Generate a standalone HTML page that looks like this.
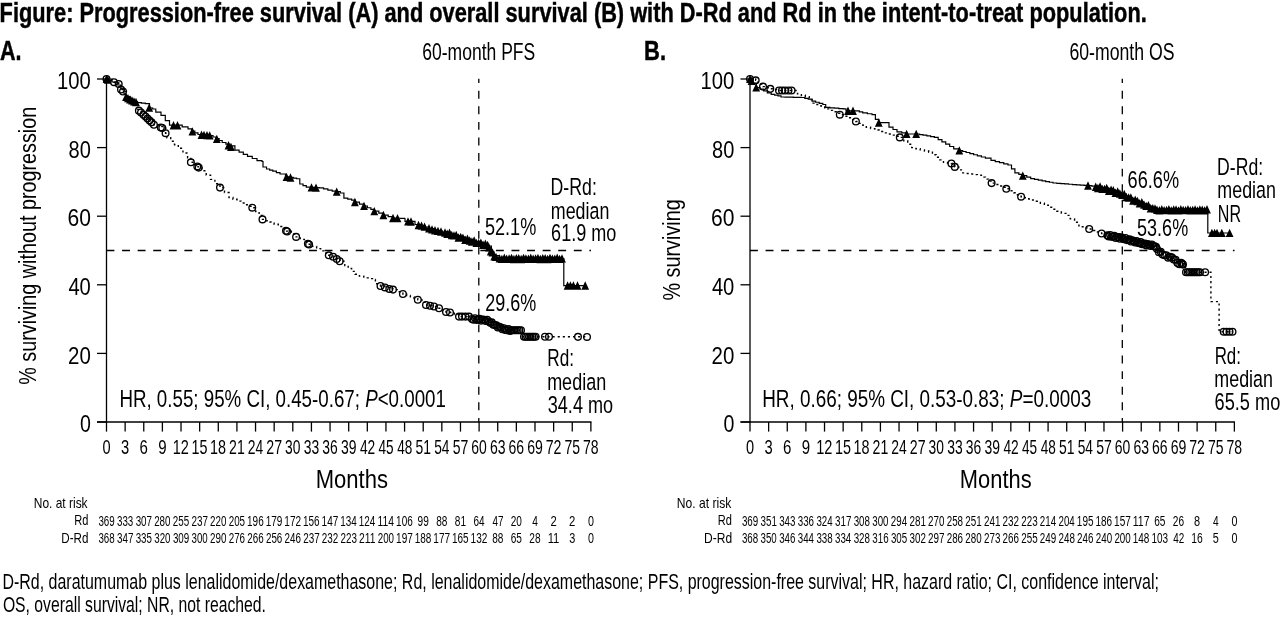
<!DOCTYPE html>
<html><head><meta charset="utf-8"><style>
html,body{margin:0;padding:0;background:#fff;}
svg{display:block;filter:grayscale(1);}
text{font-family:"Liberation Sans",sans-serif;fill:#000;}
</style></head><body>
<svg width="1280" height="617" viewBox="0 0 1280 617">
<rect width="1280" height="617" fill="#fff"/>
<text x="-0.42" y="21.60" font-size="27.2" font-weight="bold" textLength="1147.19" lengthAdjust="spacingAndGlyphs" stroke="#000" stroke-width="0.45">Figure: Progression-free survival (A) and overall survival (B) with D-Rd and Rd in the intent-to-treat population.</text>
<text x="-0.04" y="59.80" font-size="27.2" font-weight="bold" textLength="21.55" lengthAdjust="spacingAndGlyphs" stroke="#000" stroke-width="0.45">A.</text>
<text x="644.07" y="59.80" font-size="27.2" font-weight="bold" textLength="21.97" lengthAdjust="spacingAndGlyphs" stroke="#000" stroke-width="0.45">B.</text>
<text x="422.22" y="59.75" font-size="23" font-weight="normal" textLength="113.01" lengthAdjust="spacingAndGlyphs">60-month PFS</text>
<text x="1069.42" y="59.80" font-size="23" font-weight="normal" textLength="105.12" lengthAdjust="spacingAndGlyphs">60-month OS</text>
<line x1="106.50" y1="78.40" x2="106.50" y2="422.60" stroke="#000" stroke-width="1.3"/>
<line x1="97.00" y1="422.00" x2="106.50" y2="422.00" stroke="#000" stroke-width="1.3"/>
<line x1="97.00" y1="353.40" x2="106.50" y2="353.40" stroke="#000" stroke-width="1.3"/>
<line x1="97.00" y1="284.80" x2="106.50" y2="284.80" stroke="#000" stroke-width="1.3"/>
<line x1="97.00" y1="216.20" x2="106.50" y2="216.20" stroke="#000" stroke-width="1.3"/>
<line x1="97.00" y1="147.60" x2="106.50" y2="147.60" stroke="#000" stroke-width="1.3"/>
<line x1="97.00" y1="79.00" x2="106.50" y2="79.00" stroke="#000" stroke-width="1.3"/>
<line x1="97.00" y1="422.00" x2="591.48" y2="422.00" stroke="#000" stroke-width="1.3"/>
<line x1="106.50" y1="422.00" x2="106.50" y2="431.60" stroke="#000" stroke-width="1.3"/>
<line x1="125.13" y1="422.00" x2="125.13" y2="431.60" stroke="#000" stroke-width="1.3"/>
<line x1="143.76" y1="422.00" x2="143.76" y2="431.60" stroke="#000" stroke-width="1.3"/>
<line x1="162.39" y1="422.00" x2="162.39" y2="431.60" stroke="#000" stroke-width="1.3"/>
<line x1="181.02" y1="422.00" x2="181.02" y2="431.60" stroke="#000" stroke-width="1.3"/>
<line x1="199.65" y1="422.00" x2="199.65" y2="431.60" stroke="#000" stroke-width="1.3"/>
<line x1="218.28" y1="422.00" x2="218.28" y2="431.60" stroke="#000" stroke-width="1.3"/>
<line x1="236.91" y1="422.00" x2="236.91" y2="431.60" stroke="#000" stroke-width="1.3"/>
<line x1="255.54" y1="422.00" x2="255.54" y2="431.60" stroke="#000" stroke-width="1.3"/>
<line x1="274.17" y1="422.00" x2="274.17" y2="431.60" stroke="#000" stroke-width="1.3"/>
<line x1="292.80" y1="422.00" x2="292.80" y2="431.60" stroke="#000" stroke-width="1.3"/>
<line x1="311.43" y1="422.00" x2="311.43" y2="431.60" stroke="#000" stroke-width="1.3"/>
<line x1="330.06" y1="422.00" x2="330.06" y2="431.60" stroke="#000" stroke-width="1.3"/>
<line x1="348.69" y1="422.00" x2="348.69" y2="431.60" stroke="#000" stroke-width="1.3"/>
<line x1="367.32" y1="422.00" x2="367.32" y2="431.60" stroke="#000" stroke-width="1.3"/>
<line x1="385.95" y1="422.00" x2="385.95" y2="431.60" stroke="#000" stroke-width="1.3"/>
<line x1="404.58" y1="422.00" x2="404.58" y2="431.60" stroke="#000" stroke-width="1.3"/>
<line x1="423.21" y1="422.00" x2="423.21" y2="431.60" stroke="#000" stroke-width="1.3"/>
<line x1="441.84" y1="422.00" x2="441.84" y2="431.60" stroke="#000" stroke-width="1.3"/>
<line x1="460.47" y1="422.00" x2="460.47" y2="431.60" stroke="#000" stroke-width="1.3"/>
<line x1="479.10" y1="422.00" x2="479.10" y2="431.60" stroke="#000" stroke-width="1.3"/>
<line x1="497.73" y1="422.00" x2="497.73" y2="431.60" stroke="#000" stroke-width="1.3"/>
<line x1="516.36" y1="422.00" x2="516.36" y2="431.60" stroke="#000" stroke-width="1.3"/>
<line x1="534.99" y1="422.00" x2="534.99" y2="431.60" stroke="#000" stroke-width="1.3"/>
<line x1="553.62" y1="422.00" x2="553.62" y2="431.60" stroke="#000" stroke-width="1.3"/>
<line x1="572.25" y1="422.00" x2="572.25" y2="431.60" stroke="#000" stroke-width="1.3"/>
<line x1="590.88" y1="422.00" x2="590.88" y2="431.60" stroke="#000" stroke-width="1.3"/>
<line x1="106.50" y1="250.50" x2="591.00" y2="250.50" stroke="#000" stroke-width="1.3" stroke-dasharray="7.9 7.677"/>
<line x1="478.80" y1="78.80" x2="478.80" y2="422.00" stroke="#000" stroke-width="1.3" stroke-dasharray="7.9 7.677" stroke-dashoffset="3.6"/>
<line x1="750.00" y1="78.40" x2="750.00" y2="422.60" stroke="#000" stroke-width="1.3"/>
<line x1="740.50" y1="422.00" x2="750.00" y2="422.00" stroke="#000" stroke-width="1.3"/>
<line x1="740.50" y1="353.40" x2="750.00" y2="353.40" stroke="#000" stroke-width="1.3"/>
<line x1="740.50" y1="284.80" x2="750.00" y2="284.80" stroke="#000" stroke-width="1.3"/>
<line x1="740.50" y1="216.20" x2="750.00" y2="216.20" stroke="#000" stroke-width="1.3"/>
<line x1="740.50" y1="147.60" x2="750.00" y2="147.60" stroke="#000" stroke-width="1.3"/>
<line x1="740.50" y1="79.00" x2="750.00" y2="79.00" stroke="#000" stroke-width="1.3"/>
<line x1="740.50" y1="422.00" x2="1234.98" y2="422.00" stroke="#000" stroke-width="1.3"/>
<line x1="750.00" y1="422.00" x2="750.00" y2="431.60" stroke="#000" stroke-width="1.3"/>
<line x1="768.63" y1="422.00" x2="768.63" y2="431.60" stroke="#000" stroke-width="1.3"/>
<line x1="787.26" y1="422.00" x2="787.26" y2="431.60" stroke="#000" stroke-width="1.3"/>
<line x1="805.89" y1="422.00" x2="805.89" y2="431.60" stroke="#000" stroke-width="1.3"/>
<line x1="824.52" y1="422.00" x2="824.52" y2="431.60" stroke="#000" stroke-width="1.3"/>
<line x1="843.15" y1="422.00" x2="843.15" y2="431.60" stroke="#000" stroke-width="1.3"/>
<line x1="861.78" y1="422.00" x2="861.78" y2="431.60" stroke="#000" stroke-width="1.3"/>
<line x1="880.41" y1="422.00" x2="880.41" y2="431.60" stroke="#000" stroke-width="1.3"/>
<line x1="899.04" y1="422.00" x2="899.04" y2="431.60" stroke="#000" stroke-width="1.3"/>
<line x1="917.67" y1="422.00" x2="917.67" y2="431.60" stroke="#000" stroke-width="1.3"/>
<line x1="936.30" y1="422.00" x2="936.30" y2="431.60" stroke="#000" stroke-width="1.3"/>
<line x1="954.93" y1="422.00" x2="954.93" y2="431.60" stroke="#000" stroke-width="1.3"/>
<line x1="973.56" y1="422.00" x2="973.56" y2="431.60" stroke="#000" stroke-width="1.3"/>
<line x1="992.19" y1="422.00" x2="992.19" y2="431.60" stroke="#000" stroke-width="1.3"/>
<line x1="1010.82" y1="422.00" x2="1010.82" y2="431.60" stroke="#000" stroke-width="1.3"/>
<line x1="1029.45" y1="422.00" x2="1029.45" y2="431.60" stroke="#000" stroke-width="1.3"/>
<line x1="1048.08" y1="422.00" x2="1048.08" y2="431.60" stroke="#000" stroke-width="1.3"/>
<line x1="1066.71" y1="422.00" x2="1066.71" y2="431.60" stroke="#000" stroke-width="1.3"/>
<line x1="1085.34" y1="422.00" x2="1085.34" y2="431.60" stroke="#000" stroke-width="1.3"/>
<line x1="1103.97" y1="422.00" x2="1103.97" y2="431.60" stroke="#000" stroke-width="1.3"/>
<line x1="1122.60" y1="422.00" x2="1122.60" y2="431.60" stroke="#000" stroke-width="1.3"/>
<line x1="1141.23" y1="422.00" x2="1141.23" y2="431.60" stroke="#000" stroke-width="1.3"/>
<line x1="1159.86" y1="422.00" x2="1159.86" y2="431.60" stroke="#000" stroke-width="1.3"/>
<line x1="1178.49" y1="422.00" x2="1178.49" y2="431.60" stroke="#000" stroke-width="1.3"/>
<line x1="1197.12" y1="422.00" x2="1197.12" y2="431.60" stroke="#000" stroke-width="1.3"/>
<line x1="1215.75" y1="422.00" x2="1215.75" y2="431.60" stroke="#000" stroke-width="1.3"/>
<line x1="1234.38" y1="422.00" x2="1234.38" y2="431.60" stroke="#000" stroke-width="1.3"/>
<line x1="750.00" y1="250.50" x2="1234.50" y2="250.50" stroke="#000" stroke-width="1.3" stroke-dasharray="7.9 7.677"/>
<line x1="1122.30" y1="78.80" x2="1122.30" y2="422.00" stroke="#000" stroke-width="1.3" stroke-dasharray="7.9 7.677" stroke-dashoffset="3.6"/>
<text x="79.92" y="432.10" font-size="24.5" font-weight="normal" textLength="10.89" lengthAdjust="spacingAndGlyphs">0</text>
<text x="68.08" y="363.50" font-size="24.5" font-weight="normal" textLength="22.79" lengthAdjust="spacingAndGlyphs">20</text>
<text x="68.40" y="294.90" font-size="24.5" font-weight="normal" textLength="22.46" lengthAdjust="spacingAndGlyphs">40</text>
<text x="67.45" y="226.30" font-size="24.5" font-weight="normal" textLength="23.44" lengthAdjust="spacingAndGlyphs">60</text>
<text x="68.60" y="157.70" font-size="24.5" font-weight="normal" textLength="22.25" lengthAdjust="spacingAndGlyphs">80</text>
<text x="57.08" y="89.10" font-size="24.5" font-weight="normal" textLength="33.80" lengthAdjust="spacingAndGlyphs">100</text>
<text x="723.42" y="432.10" font-size="24.5" font-weight="normal" textLength="10.89" lengthAdjust="spacingAndGlyphs">0</text>
<text x="711.58" y="363.50" font-size="24.5" font-weight="normal" textLength="22.79" lengthAdjust="spacingAndGlyphs">20</text>
<text x="711.90" y="294.90" font-size="24.5" font-weight="normal" textLength="22.46" lengthAdjust="spacingAndGlyphs">40</text>
<text x="710.95" y="226.30" font-size="24.5" font-weight="normal" textLength="23.44" lengthAdjust="spacingAndGlyphs">60</text>
<text x="712.10" y="157.70" font-size="24.5" font-weight="normal" textLength="22.25" lengthAdjust="spacingAndGlyphs">80</text>
<text x="700.58" y="89.10" font-size="24.5" font-weight="normal" textLength="33.80" lengthAdjust="spacingAndGlyphs">100</text>
<text x="102.42" y="453.50" font-size="20.2" font-weight="normal" textLength="8.11" lengthAdjust="spacingAndGlyphs">0</text>
<text x="121.04" y="453.50" font-size="20.2" font-weight="normal" textLength="8.20" lengthAdjust="spacingAndGlyphs">3</text>
<text x="139.51" y="453.50" font-size="20.2" font-weight="normal" textLength="8.37" lengthAdjust="spacingAndGlyphs">6</text>
<text x="158.21" y="453.50" font-size="20.2" font-weight="normal" textLength="8.37" lengthAdjust="spacingAndGlyphs">9</text>
<text x="172.78" y="453.50" font-size="20.2" font-weight="normal" textLength="16.15" lengthAdjust="spacingAndGlyphs">12</text>
<text x="191.42" y="453.50" font-size="20.2" font-weight="normal" textLength="15.99" lengthAdjust="spacingAndGlyphs">15</text>
<text x="210.05" y="453.50" font-size="20.2" font-weight="normal" textLength="15.99" lengthAdjust="spacingAndGlyphs">18</text>
<text x="229.06" y="453.50" font-size="20.2" font-weight="normal" textLength="15.67" lengthAdjust="spacingAndGlyphs">21</text>
<text x="247.70" y="453.50" font-size="20.2" font-weight="normal" textLength="15.44" lengthAdjust="spacingAndGlyphs">24</text>
<text x="266.31" y="453.50" font-size="20.2" font-weight="normal" textLength="15.75" lengthAdjust="spacingAndGlyphs">27</text>
<text x="285.10" y="453.50" font-size="20.2" font-weight="normal" textLength="15.37" lengthAdjust="spacingAndGlyphs">30</text>
<text x="303.72" y="453.50" font-size="20.2" font-weight="normal" textLength="15.44" lengthAdjust="spacingAndGlyphs">33</text>
<text x="322.35" y="453.50" font-size="20.2" font-weight="normal" textLength="15.44" lengthAdjust="spacingAndGlyphs">36</text>
<text x="340.98" y="453.50" font-size="20.2" font-weight="normal" textLength="15.52" lengthAdjust="spacingAndGlyphs">39</text>
<text x="359.90" y="453.50" font-size="20.2" font-weight="normal" textLength="15.29" lengthAdjust="spacingAndGlyphs">42</text>
<text x="378.53" y="453.50" font-size="20.2" font-weight="normal" textLength="15.15" lengthAdjust="spacingAndGlyphs">45</text>
<text x="397.16" y="453.50" font-size="20.2" font-weight="normal" textLength="15.15" lengthAdjust="spacingAndGlyphs">48</text>
<text x="415.50" y="453.50" font-size="20.2" font-weight="normal" textLength="15.52" lengthAdjust="spacingAndGlyphs">51</text>
<text x="434.14" y="453.50" font-size="20.2" font-weight="normal" textLength="15.29" lengthAdjust="spacingAndGlyphs">54</text>
<text x="452.76" y="453.50" font-size="20.2" font-weight="normal" textLength="15.59" lengthAdjust="spacingAndGlyphs">57</text>
<text x="471.25" y="453.50" font-size="20.2" font-weight="normal" textLength="15.52" lengthAdjust="spacingAndGlyphs">60</text>
<text x="489.88" y="453.50" font-size="20.2" font-weight="normal" textLength="15.59" lengthAdjust="spacingAndGlyphs">63</text>
<text x="508.51" y="453.50" font-size="20.2" font-weight="normal" textLength="15.59" lengthAdjust="spacingAndGlyphs">66</text>
<text x="527.14" y="453.50" font-size="20.2" font-weight="normal" textLength="15.67" lengthAdjust="spacingAndGlyphs">69</text>
<text x="545.76" y="453.50" font-size="20.2" font-weight="normal" textLength="15.75" lengthAdjust="spacingAndGlyphs">72</text>
<text x="564.40" y="453.50" font-size="20.2" font-weight="normal" textLength="15.59" lengthAdjust="spacingAndGlyphs">75</text>
<text x="583.03" y="453.50" font-size="20.2" font-weight="normal" textLength="15.59" lengthAdjust="spacingAndGlyphs">78</text>
<text x="745.92" y="453.50" font-size="20.2" font-weight="normal" textLength="8.11" lengthAdjust="spacingAndGlyphs">0</text>
<text x="764.54" y="453.50" font-size="20.2" font-weight="normal" textLength="8.20" lengthAdjust="spacingAndGlyphs">3</text>
<text x="783.01" y="453.50" font-size="20.2" font-weight="normal" textLength="8.37" lengthAdjust="spacingAndGlyphs">6</text>
<text x="801.71" y="453.50" font-size="20.2" font-weight="normal" textLength="8.37" lengthAdjust="spacingAndGlyphs">9</text>
<text x="816.28" y="453.50" font-size="20.2" font-weight="normal" textLength="16.15" lengthAdjust="spacingAndGlyphs">12</text>
<text x="834.92" y="453.50" font-size="20.2" font-weight="normal" textLength="15.99" lengthAdjust="spacingAndGlyphs">15</text>
<text x="853.55" y="453.50" font-size="20.2" font-weight="normal" textLength="15.99" lengthAdjust="spacingAndGlyphs">18</text>
<text x="872.56" y="453.50" font-size="20.2" font-weight="normal" textLength="15.67" lengthAdjust="spacingAndGlyphs">21</text>
<text x="891.20" y="453.50" font-size="20.2" font-weight="normal" textLength="15.44" lengthAdjust="spacingAndGlyphs">24</text>
<text x="909.81" y="453.50" font-size="20.2" font-weight="normal" textLength="15.75" lengthAdjust="spacingAndGlyphs">27</text>
<text x="928.60" y="453.50" font-size="20.2" font-weight="normal" textLength="15.37" lengthAdjust="spacingAndGlyphs">30</text>
<text x="947.22" y="453.50" font-size="20.2" font-weight="normal" textLength="15.44" lengthAdjust="spacingAndGlyphs">33</text>
<text x="965.85" y="453.50" font-size="20.2" font-weight="normal" textLength="15.44" lengthAdjust="spacingAndGlyphs">36</text>
<text x="984.48" y="453.50" font-size="20.2" font-weight="normal" textLength="15.52" lengthAdjust="spacingAndGlyphs">39</text>
<text x="1003.39" y="453.50" font-size="20.2" font-weight="normal" textLength="15.29" lengthAdjust="spacingAndGlyphs">42</text>
<text x="1022.03" y="453.50" font-size="20.2" font-weight="normal" textLength="15.15" lengthAdjust="spacingAndGlyphs">45</text>
<text x="1040.66" y="453.50" font-size="20.2" font-weight="normal" textLength="15.15" lengthAdjust="spacingAndGlyphs">48</text>
<text x="1059.00" y="453.50" font-size="20.2" font-weight="normal" textLength="15.52" lengthAdjust="spacingAndGlyphs">51</text>
<text x="1077.64" y="453.50" font-size="20.2" font-weight="normal" textLength="15.29" lengthAdjust="spacingAndGlyphs">54</text>
<text x="1096.26" y="453.50" font-size="20.2" font-weight="normal" textLength="15.59" lengthAdjust="spacingAndGlyphs">57</text>
<text x="1114.75" y="453.50" font-size="20.2" font-weight="normal" textLength="15.52" lengthAdjust="spacingAndGlyphs">60</text>
<text x="1133.38" y="453.50" font-size="20.2" font-weight="normal" textLength="15.59" lengthAdjust="spacingAndGlyphs">63</text>
<text x="1152.01" y="453.50" font-size="20.2" font-weight="normal" textLength="15.59" lengthAdjust="spacingAndGlyphs">66</text>
<text x="1170.64" y="453.50" font-size="20.2" font-weight="normal" textLength="15.67" lengthAdjust="spacingAndGlyphs">69</text>
<text x="1189.26" y="453.50" font-size="20.2" font-weight="normal" textLength="15.75" lengthAdjust="spacingAndGlyphs">72</text>
<text x="1207.90" y="453.50" font-size="20.2" font-weight="normal" textLength="15.59" lengthAdjust="spacingAndGlyphs">75</text>
<text x="1226.53" y="453.50" font-size="20.2" font-weight="normal" textLength="15.59" lengthAdjust="spacingAndGlyphs">78</text>
<text x="315.74" y="488.40" font-size="26.6" font-weight="normal" textLength="72.22" lengthAdjust="spacingAndGlyphs">Months</text>
<text x="959.85" y="488.40" font-size="26.6" font-weight="normal" textLength="71.80" lengthAdjust="spacingAndGlyphs">Months</text>
<text transform="translate(35.90,384.69) rotate(-90)" x="0" y="0" font-size="23.5" textLength="277.92" lengthAdjust="spacingAndGlyphs">% surviving without progression</text>
<text transform="translate(679.50,300.59) rotate(-90)" x="0" y="0" font-size="23.5" textLength="101.44" lengthAdjust="spacingAndGlyphs">% surviving</text>
<text x="119.40" y="407.40" font-size="24.8" font-weight="normal" textLength="326.50" lengthAdjust="spacingAndGlyphs">HR, 0.55; 95% CI, 0.45-0.67; <tspan font-style="italic">P</tspan>&lt;0.0001</text>
<text x="762.19" y="407.40" font-size="24.8" font-weight="normal" textLength="329.02" lengthAdjust="spacingAndGlyphs">HR, 0.66; 95% CI, 0.53-0.83; <tspan font-style="italic">P</tspan>=0.0003</text>
<text x="484.98" y="234.60" font-size="24.6" font-weight="normal" textLength="51.26" lengthAdjust="spacingAndGlyphs">52.1%</text>
<text x="485.20" y="310.50" font-size="24.6" font-weight="normal" textLength="51.04" lengthAdjust="spacingAndGlyphs">29.6%</text>
<text x="550.58" y="194.90" font-size="23.9" font-weight="normal" textLength="46.23" lengthAdjust="spacingAndGlyphs">D-Rd:</text>
<text x="550.84" y="218.70" font-size="23.9" font-weight="normal" textLength="58.52" lengthAdjust="spacingAndGlyphs">median</text>
<text x="551.10" y="241.40" font-size="23.9" font-weight="normal" textLength="65.29" lengthAdjust="spacingAndGlyphs">61.9 mo</text>
<text x="547.23" y="366.00" font-size="23.9" font-weight="normal" textLength="26.74" lengthAdjust="spacingAndGlyphs">Rd:</text>
<text x="547.13" y="389.80" font-size="23.9" font-weight="normal" textLength="59.04" lengthAdjust="spacingAndGlyphs">median</text>
<text x="547.78" y="413.00" font-size="23.9" font-weight="normal" textLength="65.31" lengthAdjust="spacingAndGlyphs">34.4 mo</text>
<text x="1127.59" y="187.60" font-size="24.6" font-weight="normal" textLength="51.45" lengthAdjust="spacingAndGlyphs">66.6%</text>
<text x="1137.08" y="236.40" font-size="24.6" font-weight="normal" textLength="51.06" lengthAdjust="spacingAndGlyphs">53.6%</text>
<text x="1217.09" y="174.60" font-size="23.9" font-weight="normal" textLength="46.02" lengthAdjust="spacingAndGlyphs">D-Rd:</text>
<text x="1217.34" y="198.00" font-size="23.9" font-weight="normal" textLength="58.62" lengthAdjust="spacingAndGlyphs">median</text>
<text x="1217.82" y="221.70" font-size="23.9" font-weight="normal" textLength="23.18" lengthAdjust="spacingAndGlyphs">NR</text>
<text x="1214.65" y="363.60" font-size="23.9" font-weight="normal" textLength="26.29" lengthAdjust="spacingAndGlyphs">Rd:</text>
<text x="1214.34" y="387.30" font-size="23.9" font-weight="normal" textLength="58.62" lengthAdjust="spacingAndGlyphs">median</text>
<text x="1214.59" y="410.30" font-size="23.9" font-weight="normal" textLength="65.70" lengthAdjust="spacingAndGlyphs">65.5 mo</text>
<text x="33.74" y="508.10" font-size="14.6" font-weight="normal" textLength="53.87" lengthAdjust="spacingAndGlyphs">No. at risk</text>
<text x="74.22" y="525.40" font-size="14.6" font-weight="normal" textLength="14.14" lengthAdjust="spacingAndGlyphs">Rd</text>
<text x="61.27" y="542.90" font-size="14.6" font-weight="normal" textLength="27.13" lengthAdjust="spacingAndGlyphs">D-Rd</text>
<text x="98.38" y="525.50" font-size="14.4" font-weight="normal" textLength="16.32" lengthAdjust="spacingAndGlyphs">369</text>
<text x="117.02" y="525.50" font-size="14.4" font-weight="normal" textLength="16.26" lengthAdjust="spacingAndGlyphs">333</text>
<text x="135.64" y="525.50" font-size="14.4" font-weight="normal" textLength="16.37" lengthAdjust="spacingAndGlyphs">307</text>
<text x="154.18" y="525.50" font-size="14.4" font-weight="normal" textLength="16.32" lengthAdjust="spacingAndGlyphs">280</text>
<text x="172.80" y="525.50" font-size="14.4" font-weight="normal" textLength="16.37" lengthAdjust="spacingAndGlyphs">255</text>
<text x="191.43" y="525.50" font-size="14.4" font-weight="normal" textLength="16.47" lengthAdjust="spacingAndGlyphs">237</text>
<text x="210.07" y="525.50" font-size="14.4" font-weight="normal" textLength="16.32" lengthAdjust="spacingAndGlyphs">220</text>
<text x="228.69" y="525.50" font-size="14.4" font-weight="normal" textLength="16.37" lengthAdjust="spacingAndGlyphs">205</text>
<text x="247.07" y="525.50" font-size="14.4" font-weight="normal" textLength="16.63" lengthAdjust="spacingAndGlyphs">196</text>
<text x="265.69" y="525.50" font-size="14.4" font-weight="normal" textLength="16.69" lengthAdjust="spacingAndGlyphs">179</text>
<text x="284.32" y="525.50" font-size="14.4" font-weight="normal" textLength="16.74" lengthAdjust="spacingAndGlyphs">172</text>
<text x="302.96" y="525.50" font-size="14.4" font-weight="normal" textLength="16.63" lengthAdjust="spacingAndGlyphs">156</text>
<text x="321.58" y="525.50" font-size="14.4" font-weight="normal" textLength="16.74" lengthAdjust="spacingAndGlyphs">147</text>
<text x="340.22" y="525.50" font-size="14.4" font-weight="normal" textLength="16.52" lengthAdjust="spacingAndGlyphs">134</text>
<text x="358.85" y="525.50" font-size="14.4" font-weight="normal" textLength="16.52" lengthAdjust="spacingAndGlyphs">124</text>
<text x="377.45" y="525.50" font-size="14.4" font-weight="normal" textLength="16.53" lengthAdjust="spacingAndGlyphs">114</text>
<text x="396.11" y="525.50" font-size="14.4" font-weight="normal" textLength="16.63" lengthAdjust="spacingAndGlyphs">106</text>
<text x="417.61" y="525.50" font-size="14.4" font-weight="normal" textLength="11.23" lengthAdjust="spacingAndGlyphs">99</text>
<text x="436.24" y="525.50" font-size="14.4" font-weight="normal" textLength="11.18" lengthAdjust="spacingAndGlyphs">88</text>
<text x="454.87" y="525.50" font-size="14.4" font-weight="normal" textLength="11.23" lengthAdjust="spacingAndGlyphs">81</text>
<text x="473.45" y="525.50" font-size="14.4" font-weight="normal" textLength="11.12" lengthAdjust="spacingAndGlyphs">64</text>
<text x="492.38" y="525.50" font-size="14.4" font-weight="normal" textLength="11.02" lengthAdjust="spacingAndGlyphs">47</text>
<text x="510.71" y="525.50" font-size="14.4" font-weight="normal" textLength="11.18" lengthAdjust="spacingAndGlyphs">20</text>
<text x="532.21" y="525.50" font-size="14.4" font-weight="normal" textLength="5.67" lengthAdjust="spacingAndGlyphs">4</text>
<text x="550.48" y="525.50" font-size="14.4" font-weight="normal" textLength="6.30" lengthAdjust="spacingAndGlyphs">2</text>
<text x="569.11" y="525.50" font-size="14.4" font-weight="normal" textLength="6.30" lengthAdjust="spacingAndGlyphs">2</text>
<text x="587.88" y="525.50" font-size="14.4" font-weight="normal" textLength="5.97" lengthAdjust="spacingAndGlyphs">0</text>
<text x="98.39" y="542.90" font-size="14.4" font-weight="normal" textLength="16.26" lengthAdjust="spacingAndGlyphs">368</text>
<text x="117.01" y="542.90" font-size="14.4" font-weight="normal" textLength="16.37" lengthAdjust="spacingAndGlyphs">347</text>
<text x="135.65" y="542.90" font-size="14.4" font-weight="normal" textLength="16.26" lengthAdjust="spacingAndGlyphs">335</text>
<text x="154.28" y="542.90" font-size="14.4" font-weight="normal" textLength="16.21" lengthAdjust="spacingAndGlyphs">320</text>
<text x="172.90" y="542.90" font-size="14.4" font-weight="normal" textLength="16.32" lengthAdjust="spacingAndGlyphs">309</text>
<text x="191.54" y="542.90" font-size="14.4" font-weight="normal" textLength="16.21" lengthAdjust="spacingAndGlyphs">300</text>
<text x="210.07" y="542.90" font-size="14.4" font-weight="normal" textLength="16.32" lengthAdjust="spacingAndGlyphs">290</text>
<text x="228.69" y="542.90" font-size="14.4" font-weight="normal" textLength="16.37" lengthAdjust="spacingAndGlyphs">276</text>
<text x="247.32" y="542.90" font-size="14.4" font-weight="normal" textLength="16.37" lengthAdjust="spacingAndGlyphs">266</text>
<text x="265.95" y="542.90" font-size="14.4" font-weight="normal" textLength="16.37" lengthAdjust="spacingAndGlyphs">256</text>
<text x="284.58" y="542.90" font-size="14.4" font-weight="normal" textLength="16.37" lengthAdjust="spacingAndGlyphs">246</text>
<text x="303.21" y="542.90" font-size="14.4" font-weight="normal" textLength="16.47" lengthAdjust="spacingAndGlyphs">237</text>
<text x="321.84" y="542.90" font-size="14.4" font-weight="normal" textLength="16.47" lengthAdjust="spacingAndGlyphs">232</text>
<text x="340.47" y="542.90" font-size="14.4" font-weight="normal" textLength="16.37" lengthAdjust="spacingAndGlyphs">223</text>
<text x="359.08" y="542.90" font-size="14.4" font-weight="normal" textLength="16.42" lengthAdjust="spacingAndGlyphs">211</text>
<text x="377.74" y="542.90" font-size="14.4" font-weight="normal" textLength="16.32" lengthAdjust="spacingAndGlyphs">200</text>
<text x="396.10" y="542.90" font-size="14.4" font-weight="normal" textLength="16.74" lengthAdjust="spacingAndGlyphs">197</text>
<text x="414.74" y="542.90" font-size="14.4" font-weight="normal" textLength="16.63" lengthAdjust="spacingAndGlyphs">188</text>
<text x="433.36" y="542.90" font-size="14.4" font-weight="normal" textLength="16.74" lengthAdjust="spacingAndGlyphs">177</text>
<text x="452.00" y="542.90" font-size="14.4" font-weight="normal" textLength="16.63" lengthAdjust="spacingAndGlyphs">165</text>
<text x="470.62" y="542.90" font-size="14.4" font-weight="normal" textLength="16.74" lengthAdjust="spacingAndGlyphs">132</text>
<text x="492.13" y="542.90" font-size="14.4" font-weight="normal" textLength="11.18" lengthAdjust="spacingAndGlyphs">88</text>
<text x="510.71" y="542.90" font-size="14.4" font-weight="normal" textLength="11.23" lengthAdjust="spacingAndGlyphs">65</text>
<text x="529.34" y="542.90" font-size="14.4" font-weight="normal" textLength="11.23" lengthAdjust="spacingAndGlyphs">28</text>
<text x="547.63" y="542.90" font-size="14.4" font-weight="normal" textLength="11.69" lengthAdjust="spacingAndGlyphs">11</text>
<text x="569.24" y="542.90" font-size="14.4" font-weight="normal" textLength="6.03" lengthAdjust="spacingAndGlyphs">3</text>
<text x="587.88" y="542.90" font-size="14.4" font-weight="normal" textLength="5.97" lengthAdjust="spacingAndGlyphs">0</text>
<text x="676.83" y="508.10" font-size="14.6" font-weight="normal" textLength="54.43" lengthAdjust="spacingAndGlyphs">No. at risk</text>
<text x="717.87" y="525.40" font-size="14.6" font-weight="normal" textLength="14.14" lengthAdjust="spacingAndGlyphs">Rd</text>
<text x="704.04" y="542.90" font-size="14.6" font-weight="normal" textLength="28.04" lengthAdjust="spacingAndGlyphs">D-Rd</text>
<text x="741.88" y="525.50" font-size="14.4" font-weight="normal" textLength="16.32" lengthAdjust="spacingAndGlyphs">369</text>
<text x="760.51" y="525.50" font-size="14.4" font-weight="normal" textLength="16.32" lengthAdjust="spacingAndGlyphs">351</text>
<text x="779.15" y="525.50" font-size="14.4" font-weight="normal" textLength="16.26" lengthAdjust="spacingAndGlyphs">343</text>
<text x="797.78" y="525.50" font-size="14.4" font-weight="normal" textLength="16.26" lengthAdjust="spacingAndGlyphs">336</text>
<text x="816.41" y="525.50" font-size="14.4" font-weight="normal" textLength="16.16" lengthAdjust="spacingAndGlyphs">324</text>
<text x="835.03" y="525.50" font-size="14.4" font-weight="normal" textLength="16.37" lengthAdjust="spacingAndGlyphs">317</text>
<text x="853.67" y="525.50" font-size="14.4" font-weight="normal" textLength="16.26" lengthAdjust="spacingAndGlyphs">308</text>
<text x="872.30" y="525.50" font-size="14.4" font-weight="normal" textLength="16.21" lengthAdjust="spacingAndGlyphs">300</text>
<text x="890.83" y="525.50" font-size="14.4" font-weight="normal" textLength="16.26" lengthAdjust="spacingAndGlyphs">294</text>
<text x="909.45" y="525.50" font-size="14.4" font-weight="normal" textLength="16.42" lengthAdjust="spacingAndGlyphs">281</text>
<text x="928.09" y="525.50" font-size="14.4" font-weight="normal" textLength="16.32" lengthAdjust="spacingAndGlyphs">270</text>
<text x="946.71" y="525.50" font-size="14.4" font-weight="normal" textLength="16.37" lengthAdjust="spacingAndGlyphs">258</text>
<text x="965.34" y="525.50" font-size="14.4" font-weight="normal" textLength="16.42" lengthAdjust="spacingAndGlyphs">251</text>
<text x="983.97" y="525.50" font-size="14.4" font-weight="normal" textLength="16.42" lengthAdjust="spacingAndGlyphs">241</text>
<text x="1002.60" y="525.50" font-size="14.4" font-weight="normal" textLength="16.47" lengthAdjust="spacingAndGlyphs">232</text>
<text x="1021.23" y="525.50" font-size="14.4" font-weight="normal" textLength="16.37" lengthAdjust="spacingAndGlyphs">223</text>
<text x="1039.87" y="525.50" font-size="14.4" font-weight="normal" textLength="16.26" lengthAdjust="spacingAndGlyphs">214</text>
<text x="1058.50" y="525.50" font-size="14.4" font-weight="normal" textLength="16.26" lengthAdjust="spacingAndGlyphs">204</text>
<text x="1076.87" y="525.50" font-size="14.4" font-weight="normal" textLength="16.63" lengthAdjust="spacingAndGlyphs">195</text>
<text x="1095.50" y="525.50" font-size="14.4" font-weight="normal" textLength="16.63" lengthAdjust="spacingAndGlyphs">186</text>
<text x="1114.12" y="525.50" font-size="14.4" font-weight="normal" textLength="16.74" lengthAdjust="spacingAndGlyphs">157</text>
<text x="1132.72" y="525.50" font-size="14.4" font-weight="normal" textLength="16.76" lengthAdjust="spacingAndGlyphs">117</text>
<text x="1154.21" y="525.50" font-size="14.4" font-weight="normal" textLength="11.23" lengthAdjust="spacingAndGlyphs">65</text>
<text x="1172.84" y="525.50" font-size="14.4" font-weight="normal" textLength="11.23" lengthAdjust="spacingAndGlyphs">26</text>
<text x="1194.05" y="525.50" font-size="14.4" font-weight="normal" textLength="6.09" lengthAdjust="spacingAndGlyphs">8</text>
<text x="1212.97" y="525.50" font-size="14.4" font-weight="normal" textLength="5.67" lengthAdjust="spacingAndGlyphs">4</text>
<text x="1231.38" y="525.50" font-size="14.4" font-weight="normal" textLength="5.97" lengthAdjust="spacingAndGlyphs">0</text>
<text x="741.89" y="542.90" font-size="14.4" font-weight="normal" textLength="16.26" lengthAdjust="spacingAndGlyphs">368</text>
<text x="760.52" y="542.90" font-size="14.4" font-weight="normal" textLength="16.21" lengthAdjust="spacingAndGlyphs">350</text>
<text x="779.15" y="542.90" font-size="14.4" font-weight="normal" textLength="16.26" lengthAdjust="spacingAndGlyphs">346</text>
<text x="797.78" y="542.90" font-size="14.4" font-weight="normal" textLength="16.16" lengthAdjust="spacingAndGlyphs">344</text>
<text x="816.41" y="542.90" font-size="14.4" font-weight="normal" textLength="16.26" lengthAdjust="spacingAndGlyphs">338</text>
<text x="835.04" y="542.90" font-size="14.4" font-weight="normal" textLength="16.16" lengthAdjust="spacingAndGlyphs">334</text>
<text x="853.67" y="542.90" font-size="14.4" font-weight="normal" textLength="16.26" lengthAdjust="spacingAndGlyphs">328</text>
<text x="872.30" y="542.90" font-size="14.4" font-weight="normal" textLength="16.26" lengthAdjust="spacingAndGlyphs">316</text>
<text x="890.93" y="542.90" font-size="14.4" font-weight="normal" textLength="16.26" lengthAdjust="spacingAndGlyphs">305</text>
<text x="909.55" y="542.90" font-size="14.4" font-weight="normal" textLength="16.37" lengthAdjust="spacingAndGlyphs">302</text>
<text x="928.08" y="542.90" font-size="14.4" font-weight="normal" textLength="16.47" lengthAdjust="spacingAndGlyphs">297</text>
<text x="946.71" y="542.90" font-size="14.4" font-weight="normal" textLength="16.37" lengthAdjust="spacingAndGlyphs">286</text>
<text x="965.35" y="542.90" font-size="14.4" font-weight="normal" textLength="16.32" lengthAdjust="spacingAndGlyphs">280</text>
<text x="983.97" y="542.90" font-size="14.4" font-weight="normal" textLength="16.37" lengthAdjust="spacingAndGlyphs">273</text>
<text x="1002.60" y="542.90" font-size="14.4" font-weight="normal" textLength="16.37" lengthAdjust="spacingAndGlyphs">266</text>
<text x="1021.23" y="542.90" font-size="14.4" font-weight="normal" textLength="16.37" lengthAdjust="spacingAndGlyphs">255</text>
<text x="1039.86" y="542.90" font-size="14.4" font-weight="normal" textLength="16.42" lengthAdjust="spacingAndGlyphs">249</text>
<text x="1058.49" y="542.90" font-size="14.4" font-weight="normal" textLength="16.37" lengthAdjust="spacingAndGlyphs">248</text>
<text x="1077.12" y="542.90" font-size="14.4" font-weight="normal" textLength="16.37" lengthAdjust="spacingAndGlyphs">246</text>
<text x="1095.76" y="542.90" font-size="14.4" font-weight="normal" textLength="16.32" lengthAdjust="spacingAndGlyphs">240</text>
<text x="1114.39" y="542.90" font-size="14.4" font-weight="normal" textLength="16.32" lengthAdjust="spacingAndGlyphs">200</text>
<text x="1132.76" y="542.90" font-size="14.4" font-weight="normal" textLength="16.63" lengthAdjust="spacingAndGlyphs">148</text>
<text x="1151.39" y="542.90" font-size="14.4" font-weight="normal" textLength="16.63" lengthAdjust="spacingAndGlyphs">103</text>
<text x="1173.14" y="542.90" font-size="14.4" font-weight="normal" textLength="11.02" lengthAdjust="spacingAndGlyphs">42</text>
<text x="1191.19" y="542.90" font-size="14.4" font-weight="normal" textLength="11.51" lengthAdjust="spacingAndGlyphs">16</text>
<text x="1212.74" y="542.90" font-size="14.4" font-weight="normal" textLength="6.03" lengthAdjust="spacingAndGlyphs">5</text>
<text x="1231.38" y="542.90" font-size="14.4" font-weight="normal" textLength="5.97" lengthAdjust="spacingAndGlyphs">0</text>
<text x="2.47" y="588.70" font-size="21.2" font-weight="normal" textLength="1156.42" lengthAdjust="spacingAndGlyphs">D-Rd, daratumumab plus lenalidomide/dexamethasone; Rd, lenalidomide/dexamethasone; PFS, progression-free survival; HR, hazard ratio; CI, confidence interval;</text>
<text x="2.89" y="611.50" font-size="21.2" font-weight="normal" textLength="263.09" lengthAdjust="spacingAndGlyphs">OS, overall survival; NR, not reached.</text>
<path d="M106.50,79.00H110.00V80.50H114.00V82.20H118.70V83.90H121.00V89.50H123.00V91.50H126.50V95.75H130.00V100.00H133.75V104.70H137.50V109.40H141.25V112.70H145.00V116.00H149.45V120.35H153.90V124.70H158.10V126.35H162.30V128.00H165.60V133.20H166.90V137.70H170.70V141.23H174.50V144.77H178.30V148.30H182.95V153.05H187.60V157.80H190.90V162.30H194.45V164.60H198.00V166.90H201.90V170.80H206.23V175.10H210.57V179.40H214.90V183.70H220.00V187.60H224.50V192.55H229.00V197.50H233.00V199.32H237.00V201.15H241.00V202.98H245.00V204.80H248.65V206.25H252.30V207.70H255.70V211.60H259.10V215.50H262.50V219.40H266.25V220.70H270.00V222.00H274.15V224.28H278.30V226.55H282.45V228.82H286.60V231.10H291.35V234.00H296.10V236.90H300.23V239.33H304.37V241.77H308.50V244.20H312.56V246.42H316.62V248.64H320.68V250.86H324.74V253.08H328.80V255.30H333.10V256.80H336.80V259.00H339.70V261.20H344.80V265.50H348.20V268.43H351.60V271.37H355.00V274.30H359.40V276.10H363.80V277.90H368.15V278.65H372.50V279.40H375.40V283.80H380.50V286.00H384.90V287.40H389.30V288.90H393.00V289.60H397.95V291.80H402.90V294.00H406.62V295.45H410.35V296.90H414.07V298.35H417.80V299.80H421.90V302.40H426.00V305.00H430.00V305.75H434.00V306.50H439.00V308.20H442.50V310.10H446.00V312.00H450.00V312.50H454.35V314.55H458.70V316.60H469.00H471.90V318.90H475.65V319.25H479.40V319.60H483.15V319.95H486.90V320.30H491.55V323.10H496.20V325.90H500.90V327.80H505.60V329.70H510.30V330.20H522.00H522.50V336.70H587.00" fill="none" stroke="#000" stroke-width="1.4" stroke-dasharray="2.1 3.0"/>
<circle cx="106.50" cy="79.00" r="3.35" fill="none" stroke="#000" stroke-width="1.35"/>
<circle cx="114.00" cy="82.20" r="3.35" fill="none" stroke="#000" stroke-width="1.35"/>
<circle cx="118.70" cy="83.90" r="3.35" fill="none" stroke="#000" stroke-width="1.35"/>
<circle cx="121.00" cy="89.50" r="3.35" fill="none" stroke="#000" stroke-width="1.35"/>
<circle cx="123.00" cy="91.50" r="3.35" fill="none" stroke="#000" stroke-width="1.35"/>
<circle cx="138.90" cy="110.63" r="3.35" fill="none" stroke="#000" stroke-width="1.35"/>
<circle cx="141.00" cy="112.48" r="3.35" fill="none" stroke="#000" stroke-width="1.35"/>
<circle cx="143.50" cy="114.68" r="3.35" fill="none" stroke="#000" stroke-width="1.35"/>
<circle cx="145.50" cy="116.49" r="3.35" fill="none" stroke="#000" stroke-width="1.35"/>
<circle cx="147.50" cy="118.44" r="3.35" fill="none" stroke="#000" stroke-width="1.35"/>
<circle cx="149.50" cy="120.40" r="3.35" fill="none" stroke="#000" stroke-width="1.35"/>
<circle cx="151.50" cy="122.35" r="3.35" fill="none" stroke="#000" stroke-width="1.35"/>
<circle cx="153.90" cy="124.70" r="3.35" fill="none" stroke="#000" stroke-width="1.35"/>
<circle cx="160.80" cy="127.41" r="3.35" fill="none" stroke="#000" stroke-width="1.35"/>
<circle cx="162.30" cy="128.00" r="3.35" fill="none" stroke="#000" stroke-width="1.35"/>
<circle cx="165.60" cy="133.20" r="3.35" fill="none" stroke="#000" stroke-width="1.35"/>
<circle cx="190.90" cy="162.30" r="3.35" fill="none" stroke="#000" stroke-width="1.35"/>
<circle cx="197.30" cy="166.45" r="3.35" fill="none" stroke="#000" stroke-width="1.35"/>
<circle cx="198.70" cy="167.60" r="3.35" fill="none" stroke="#000" stroke-width="1.35"/>
<circle cx="220.00" cy="187.60" r="3.35" fill="none" stroke="#000" stroke-width="1.35"/>
<circle cx="252.30" cy="207.70" r="3.35" fill="none" stroke="#000" stroke-width="1.35"/>
<circle cx="262.50" cy="219.40" r="3.35" fill="none" stroke="#000" stroke-width="1.35"/>
<circle cx="286.00" cy="230.77" r="3.35" fill="none" stroke="#000" stroke-width="1.35"/>
<circle cx="287.20" cy="231.47" r="3.35" fill="none" stroke="#000" stroke-width="1.35"/>
<circle cx="296.10" cy="236.90" r="3.35" fill="none" stroke="#000" stroke-width="1.35"/>
<circle cx="307.90" cy="243.85" r="3.35" fill="none" stroke="#000" stroke-width="1.35"/>
<circle cx="309.10" cy="244.53" r="3.35" fill="none" stroke="#000" stroke-width="1.35"/>
<circle cx="328.80" cy="255.30" r="3.35" fill="none" stroke="#000" stroke-width="1.35"/>
<circle cx="333.10" cy="256.80" r="3.35" fill="none" stroke="#000" stroke-width="1.35"/>
<circle cx="336.80" cy="259.00" r="3.35" fill="none" stroke="#000" stroke-width="1.35"/>
<circle cx="339.70" cy="261.20" r="3.35" fill="none" stroke="#000" stroke-width="1.35"/>
<circle cx="380.50" cy="286.00" r="3.35" fill="none" stroke="#000" stroke-width="1.35"/>
<circle cx="384.90" cy="287.40" r="3.35" fill="none" stroke="#000" stroke-width="1.35"/>
<circle cx="389.30" cy="288.90" r="3.35" fill="none" stroke="#000" stroke-width="1.35"/>
<circle cx="393.00" cy="289.60" r="3.35" fill="none" stroke="#000" stroke-width="1.35"/>
<circle cx="402.90" cy="294.00" r="3.35" fill="none" stroke="#000" stroke-width="1.35"/>
<circle cx="417.80" cy="299.80" r="3.35" fill="none" stroke="#000" stroke-width="1.35"/>
<circle cx="426.00" cy="305.00" r="3.35" fill="none" stroke="#000" stroke-width="1.35"/>
<circle cx="430.00" cy="305.75" r="3.35" fill="none" stroke="#000" stroke-width="1.35"/>
<circle cx="434.00" cy="306.50" r="3.35" fill="none" stroke="#000" stroke-width="1.35"/>
<circle cx="439.00" cy="308.20" r="3.35" fill="none" stroke="#000" stroke-width="1.35"/>
<circle cx="446.00" cy="312.00" r="3.35" fill="none" stroke="#000" stroke-width="1.35"/>
<circle cx="450.00" cy="312.50" r="3.35" fill="none" stroke="#000" stroke-width="1.35"/>
<circle cx="459.00" cy="316.60" r="3.35" fill="none" stroke="#000" stroke-width="1.35"/>
<circle cx="462.00" cy="316.60" r="3.35" fill="none" stroke="#000" stroke-width="1.35"/>
<circle cx="465.50" cy="316.60" r="3.35" fill="none" stroke="#000" stroke-width="1.35"/>
<circle cx="469.00" cy="316.60" r="3.35" fill="none" stroke="#000" stroke-width="1.35"/>
<circle cx="472.00" cy="318.91" r="3.35" fill="none" stroke="#000" stroke-width="1.35"/>
<circle cx="473.52" cy="319.72" r="3.35" fill="none" stroke="#000" stroke-width="1.35"/>
<circle cx="475.04" cy="318.30" r="3.35" fill="none" stroke="#000" stroke-width="1.35"/>
<circle cx="476.56" cy="319.86" r="3.35" fill="none" stroke="#000" stroke-width="1.35"/>
<circle cx="478.08" cy="319.68" r="3.35" fill="none" stroke="#000" stroke-width="1.35"/>
<circle cx="479.60" cy="318.83" r="3.35" fill="none" stroke="#000" stroke-width="1.35"/>
<circle cx="481.12" cy="320.61" r="3.35" fill="none" stroke="#000" stroke-width="1.35"/>
<circle cx="482.64" cy="319.56" r="3.35" fill="none" stroke="#000" stroke-width="1.35"/>
<circle cx="484.16" cy="319.65" r="3.35" fill="none" stroke="#000" stroke-width="1.35"/>
<circle cx="485.68" cy="321.05" r="3.35" fill="none" stroke="#000" stroke-width="1.35"/>
<circle cx="487.20" cy="319.72" r="3.35" fill="none" stroke="#000" stroke-width="1.35"/>
<circle cx="488.72" cy="321.55" r="3.35" fill="none" stroke="#000" stroke-width="1.35"/>
<circle cx="490.24" cy="322.87" r="3.35" fill="none" stroke="#000" stroke-width="1.35"/>
<circle cx="491.76" cy="322.33" r="3.35" fill="none" stroke="#000" stroke-width="1.35"/>
<circle cx="493.28" cy="324.78" r="3.35" fill="none" stroke="#000" stroke-width="1.35"/>
<circle cx="494.80" cy="325.11" r="3.35" fill="none" stroke="#000" stroke-width="1.35"/>
<circle cx="496.32" cy="325.24" r="3.35" fill="none" stroke="#000" stroke-width="1.35"/>
<circle cx="497.84" cy="327.45" r="3.35" fill="none" stroke="#000" stroke-width="1.35"/>
<circle cx="499.36" cy="326.70" r="3.35" fill="none" stroke="#000" stroke-width="1.35"/>
<circle cx="500.88" cy="327.54" r="3.35" fill="none" stroke="#000" stroke-width="1.35"/>
<circle cx="502.40" cy="329.22" r="3.35" fill="none" stroke="#000" stroke-width="1.35"/>
<circle cx="503.92" cy="328.19" r="3.35" fill="none" stroke="#000" stroke-width="1.35"/>
<circle cx="505.44" cy="329.93" r="3.35" fill="none" stroke="#000" stroke-width="1.35"/>
<circle cx="506.96" cy="330.28" r="3.35" fill="none" stroke="#000" stroke-width="1.35"/>
<circle cx="508.48" cy="329.13" r="3.35" fill="none" stroke="#000" stroke-width="1.35"/>
<circle cx="510.00" cy="330.90" r="3.35" fill="none" stroke="#000" stroke-width="1.35"/>
<circle cx="511.00" cy="330.20" r="3.35" fill="none" stroke="#000" stroke-width="1.35"/>
<circle cx="512.67" cy="330.20" r="3.35" fill="none" stroke="#000" stroke-width="1.35"/>
<circle cx="514.33" cy="330.20" r="3.35" fill="none" stroke="#000" stroke-width="1.35"/>
<circle cx="516.00" cy="330.20" r="3.35" fill="none" stroke="#000" stroke-width="1.35"/>
<circle cx="517.67" cy="330.20" r="3.35" fill="none" stroke="#000" stroke-width="1.35"/>
<circle cx="519.33" cy="330.20" r="3.35" fill="none" stroke="#000" stroke-width="1.35"/>
<circle cx="521.00" cy="330.20" r="3.35" fill="none" stroke="#000" stroke-width="1.35"/>
<circle cx="524.00" cy="336.70" r="3.35" fill="none" stroke="#000" stroke-width="1.35"/>
<circle cx="525.66" cy="336.71" r="3.35" fill="none" stroke="#000" stroke-width="1.35"/>
<circle cx="527.31" cy="336.71" r="3.35" fill="none" stroke="#000" stroke-width="1.35"/>
<circle cx="528.97" cy="336.72" r="3.35" fill="none" stroke="#000" stroke-width="1.35"/>
<circle cx="530.63" cy="336.73" r="3.35" fill="none" stroke="#000" stroke-width="1.35"/>
<circle cx="532.29" cy="336.73" r="3.35" fill="none" stroke="#000" stroke-width="1.35"/>
<circle cx="533.94" cy="336.74" r="3.35" fill="none" stroke="#000" stroke-width="1.35"/>
<circle cx="535.60" cy="336.74" r="3.35" fill="none" stroke="#000" stroke-width="1.35"/>
<circle cx="545.00" cy="336.77" r="3.35" fill="none" stroke="#000" stroke-width="1.35"/>
<circle cx="549.00" cy="336.78" r="3.35" fill="none" stroke="#000" stroke-width="1.35"/>
<circle cx="578.00" cy="336.87" r="3.35" fill="none" stroke="#000" stroke-width="1.35"/>
<circle cx="587.00" cy="336.90" r="3.35" fill="none" stroke="#000" stroke-width="1.35"/>
<path d="M106.50,79.00H112.00V82.00H117.00V85.00H121.00V89.00H124.00V94.00H126.00V97.00H130.00V99.50H134.00V101.50H137.50V102.60H141.40V103.15H145.30V103.70H149.50V108.00H152.70V109.00H155.80V112.10H161.00V115.30H165.30V120.60H169.50V125.20H179.00H182.20V126.90H188.00V128.90H191.70V131.10H194.85V132.80H198.00V134.50H202.00V134.83H206.00V135.17H210.00V135.50H213.00V137.00H216.00V138.50H219.10V140.50H222.20V142.50H225.90V144.20H229.60V145.90H234.90V150.10H239.10V152.20H243.30V154.30H247.50V156.40H252.25V158.50H257.00V160.60H262.00V161.50H263.00V167.00H266.50V169.00H269.65V170.10H272.80V171.20H276.40V172.60H280.00V174.00H285.50V176.80H289.40V177.45H293.30V178.10H296.55V178.75H299.80V179.40V184.00H303.05V185.60H306.30V187.20H310.60V187.43H314.90V187.67H319.20V187.90H323.53V188.97H327.87V190.03H332.20V191.10H336.70V191.70H340.30V193.00H343.90V194.30V198.20H347.75V199.20H351.60V200.20H354.90V202.10H359.45V204.05H364.00V206.00H367.43V207.73H370.87V209.47H374.30V211.20H378.85V213.15H383.40V215.10H388.20V216.60H393.00V218.10H396.87V218.23H400.73V218.37H404.60V218.50H405.00V221.40H413.00H415.00V224.50H418.00V225.00H421.00V225.50H425.17V227.00H429.33V228.50H433.50V230.00H438.00V231.00H442.50V232.00H447.00V233.00H451.33V234.40H455.67V235.80H460.00V237.20H465.00V238.85H470.00V240.50H475.00V241.90H480.00V243.30H483.50V244.00H487.00V244.70H488.20V246.00H491.40V251.80H494.00V255.70H499.50V258.50H563.80V285.60H586.00" fill="none" stroke="#000" stroke-width="1.2"/>
<path d="M102.60,83.10L106.50,74.70L110.40,83.10ZM103.90,83.81L107.80,75.41L111.70,83.81ZM122.10,101.10L126.00,92.70L129.90,101.10ZM124.10,102.35L128.00,93.95L131.90,102.35ZM126.10,103.60L130.00,95.20L133.90,103.60ZM128.10,104.60L132.00,96.20L135.90,104.60ZM130.10,105.60L134.00,97.20L137.90,105.60ZM132.10,106.23L136.00,97.83L139.90,106.23ZM145.30,111.79L149.20,103.39L153.10,111.79ZM169.60,129.38L173.50,120.98L177.40,129.38ZM173.60,129.47L177.50,121.07L181.40,129.47ZM188.50,135.58L192.40,127.18L196.30,135.58ZM197.60,138.89L201.50,130.49L205.40,138.89ZM200.10,139.10L204.00,130.70L207.90,139.10ZM203.10,139.35L207.00,130.95L210.90,139.35ZM205.80,139.57L209.70,131.17L213.60,139.57ZM212.90,143.12L216.80,134.72L220.70,143.12ZM224.60,149.49L228.50,141.09L232.40,149.49ZM227.10,151.11L231.00,142.71L234.90,151.11ZM282.60,181.07L286.50,172.67L290.40,181.07ZM286.60,181.73L290.50,173.33L294.40,181.73ZM307.60,191.58L311.50,183.18L315.40,191.58ZM312.10,191.83L316.00,183.43L319.90,191.83ZM332.80,195.80L336.70,187.40L340.60,195.80ZM351.00,206.20L354.90,197.80L358.80,206.20ZM360.10,210.10L364.00,201.70L367.90,210.10ZM370.40,215.30L374.30,206.90L378.20,215.30ZM379.50,219.20L383.40,210.80L387.30,219.20ZM389.10,222.20L393.00,213.80L396.90,222.20ZM393.60,222.36L397.50,213.96L401.40,222.36ZM404.10,225.57L408.00,217.17L411.90,225.57ZM407.10,225.65L411.00,217.25L414.90,225.65ZM414.60,229.18L418.50,220.78L422.40,229.18ZM417.60,229.78L421.50,221.38L425.40,229.78ZM420.60,230.86L424.50,222.46L428.40,230.86ZM425.10,232.48L429.00,224.08L432.90,232.48ZM428.10,233.56L432.00,225.16L435.90,233.56ZM431.10,234.43L435.00,226.03L438.90,234.43ZM434.10,235.10L438.00,226.70L441.90,235.10ZM437.10,235.77L441.00,227.37L444.90,235.77ZM441.10,236.66L445.00,228.26L448.90,236.66ZM443.34,237.92L447.24,229.52L451.14,237.92ZM445.58,236.91L449.48,228.51L453.38,236.91ZM447.83,239.21L451.73,230.81L455.63,239.21ZM450.07,239.57L453.97,231.17L457.87,239.57ZM452.31,239.20L456.21,230.80L460.11,239.20ZM454.55,241.74L458.45,233.34L462.35,241.74ZM456.79,241.15L460.69,232.75L464.59,241.15ZM459.04,241.83L462.94,233.43L466.84,241.83ZM461.28,243.97L465.18,235.57L469.08,243.97ZM463.52,242.90L467.42,234.50L471.32,242.90ZM465.76,244.66L469.66,236.26L473.56,244.66ZM468.01,245.76L471.91,237.36L475.81,245.76ZM470.25,244.76L474.15,236.36L478.05,244.76ZM472.49,247.10L476.39,238.70L480.29,247.10ZM474.73,247.07L478.63,238.67L482.53,247.07ZM476.97,246.79L480.87,238.39L484.77,246.79ZM479.22,249.01L483.12,240.61L487.02,249.01ZM481.46,247.94L485.36,239.54L489.26,247.94ZM483.70,249.17L487.60,240.77L491.50,249.17ZM485.10,251.55L489.00,243.15L492.90,251.55ZM486.85,255.47L490.75,247.07L494.65,255.47ZM488.60,256.56L492.50,248.16L496.40,256.56ZM490.35,260.51L494.25,252.11L498.15,260.51ZM492.10,261.04L496.00,252.64L499.90,261.04ZM495.60,262.60L499.50,254.20L503.40,262.60ZM498.00,263.05L501.90,254.65L505.80,263.05ZM500.41,262.00L504.31,253.60L508.21,262.00ZM502.81,262.95L506.71,254.55L510.61,262.95ZM505.22,262.73L509.12,254.33L513.02,262.73ZM507.62,262.07L511.52,253.67L515.42,262.07ZM510.02,263.17L513.92,254.77L517.82,263.17ZM512.43,262.37L516.33,253.97L520.23,262.37ZM514.83,262.34L518.73,253.94L522.63,262.34ZM517.23,263.18L521.13,254.78L525.03,263.18ZM519.64,262.09L523.54,253.69L527.44,262.09ZM522.04,262.70L525.94,254.30L529.84,262.70ZM524.45,262.97L528.35,254.57L532.25,262.97ZM526.85,262.00L530.75,253.60L534.65,262.00ZM529.25,263.02L533.15,254.62L537.05,263.02ZM531.66,262.63L535.56,254.23L539.46,262.63ZM534.06,262.13L537.96,253.73L541.86,262.13ZM536.47,263.19L540.37,254.79L544.27,263.19ZM538.87,262.28L542.77,253.88L546.67,262.28ZM541.27,262.43L545.17,254.03L549.07,262.43ZM543.68,263.14L547.58,254.74L551.48,263.14ZM546.08,262.05L549.98,253.65L553.88,262.05ZM548.48,262.80L552.38,254.40L556.28,262.80ZM550.89,262.89L554.79,254.49L558.69,262.89ZM553.29,262.01L557.19,253.61L561.09,262.01ZM555.70,263.09L559.60,254.69L563.50,263.09ZM558.10,262.53L562.00,254.13L565.90,262.53ZM563.70,289.70L567.60,281.30L571.50,289.70ZM566.50,289.70L570.40,281.30L574.30,289.70ZM569.50,289.70L573.40,281.30L577.30,289.70ZM573.60,289.70L577.50,281.30L581.40,289.70ZM581.30,289.70L585.20,281.30L589.10,289.70Z" fill="#000"/>
<path d="M750.00,79.00H755.70V80.30H758.00V84.00H763.00V86.60H766.65V87.70H770.30V88.80H774.15V89.65H778.00V90.50H791.60H797.50V93.90H801.40V95.30H805.30V96.70H809.20V99.90H813.10V103.10H817.00V104.55H820.90V106.00H824.70V108.90H828.60V110.35H832.50V111.80H836.15V113.25H839.80V114.70H843.95V116.20H848.10V117.70H852.00V119.60H855.90V121.50H859.37V123.40H862.83V125.30H866.30V127.20H870.57V128.62H874.85V130.05H879.12V131.47H883.40V132.90H887.50V134.03H891.60V135.15H895.70V136.28H899.80V137.40H903.77V140.80H907.73V144.20H911.70V147.60H915.95V148.75H920.20V149.90H924.45V151.05H928.70V152.20H932.40V154.75H936.10V157.30H939.80V159.85H943.50V162.40H947.45V162.95H951.40V163.50H954.80V166.90H958.75V169.90H962.70V172.90H966.38V173.47H970.05V174.05H973.73V174.62H977.40V175.20H981.40V177.15H985.40V179.10H988.50V181.10H991.60V183.10H995.27V184.53H998.95V185.95H1002.62V187.38H1006.30V188.80H1010.00V190.78H1013.70V192.75H1017.40V194.72H1021.10V196.70H1024.92V197.82H1028.75V198.95H1032.58V200.07H1036.40V201.20H1040.38V203.20H1044.35V205.20H1048.33V207.20H1052.30V209.20H1056.83V211.27H1061.37V213.33H1065.90V215.40H1070.23V218.83H1074.57V222.27H1078.90V225.70H1082.33V226.80H1085.77V227.90H1089.20V229.00H1093.33V230.50H1097.47V232.00H1101.60V233.50H1107.40V235.40H1111.60V236.22H1115.80V237.05H1120.00V237.88H1124.20V238.70H1128.10V239.74H1132.00V240.78H1135.90V241.82H1139.80V242.86H1143.70V243.90H1147.40V244.60H1151.10V245.30H1154.80V246.00H1159.20V251.90H1162.85V254.05H1166.50V256.20H1170.10V257.30H1173.70V258.40H1178.10V263.50H1184.00V264.00H1185.40V272.20H1210.90V301.60H1219.10V331.80H1232.50" fill="none" stroke="#000" stroke-width="1.4" stroke-dasharray="2.1 3.0"/>
<circle cx="750.00" cy="79.00" r="3.35" fill="none" stroke="#000" stroke-width="1.35"/>
<circle cx="755.70" cy="80.30" r="3.35" fill="none" stroke="#000" stroke-width="1.35"/>
<circle cx="763.00" cy="86.60" r="3.35" fill="none" stroke="#000" stroke-width="1.35"/>
<circle cx="770.30" cy="88.80" r="3.35" fill="none" stroke="#000" stroke-width="1.35"/>
<circle cx="779.00" cy="90.50" r="3.35" fill="none" stroke="#000" stroke-width="1.35"/>
<circle cx="782.00" cy="90.50" r="3.35" fill="none" stroke="#000" stroke-width="1.35"/>
<circle cx="785.00" cy="90.50" r="3.35" fill="none" stroke="#000" stroke-width="1.35"/>
<circle cx="788.50" cy="90.50" r="3.35" fill="none" stroke="#000" stroke-width="1.35"/>
<circle cx="791.60" cy="90.50" r="3.35" fill="none" stroke="#000" stroke-width="1.35"/>
<circle cx="839.80" cy="114.70" r="3.35" fill="none" stroke="#000" stroke-width="1.35"/>
<circle cx="855.90" cy="121.50" r="3.35" fill="none" stroke="#000" stroke-width="1.35"/>
<circle cx="899.80" cy="137.40" r="3.35" fill="none" stroke="#000" stroke-width="1.35"/>
<circle cx="951.40" cy="163.50" r="3.35" fill="none" stroke="#000" stroke-width="1.35"/>
<circle cx="954.80" cy="166.90" r="3.35" fill="none" stroke="#000" stroke-width="1.35"/>
<circle cx="991.60" cy="183.10" r="3.35" fill="none" stroke="#000" stroke-width="1.35"/>
<circle cx="1006.30" cy="188.80" r="3.35" fill="none" stroke="#000" stroke-width="1.35"/>
<circle cx="1021.10" cy="196.70" r="3.35" fill="none" stroke="#000" stroke-width="1.35"/>
<circle cx="1089.20" cy="229.00" r="3.35" fill="none" stroke="#000" stroke-width="1.35"/>
<circle cx="1101.60" cy="233.50" r="3.35" fill="none" stroke="#000" stroke-width="1.35"/>
<circle cx="1107.40" cy="235.40" r="3.35" fill="none" stroke="#000" stroke-width="1.35"/>
<circle cx="1108.79" cy="236.42" r="3.35" fill="none" stroke="#000" stroke-width="1.35"/>
<circle cx="1110.18" cy="234.95" r="3.35" fill="none" stroke="#000" stroke-width="1.35"/>
<circle cx="1111.57" cy="236.80" r="3.35" fill="none" stroke="#000" stroke-width="1.35"/>
<circle cx="1112.95" cy="236.71" r="3.35" fill="none" stroke="#000" stroke-width="1.35"/>
<circle cx="1114.34" cy="235.89" r="3.35" fill="none" stroke="#000" stroke-width="1.35"/>
<circle cx="1115.73" cy="237.98" r="3.35" fill="none" stroke="#000" stroke-width="1.35"/>
<circle cx="1117.12" cy="236.93" r="3.35" fill="none" stroke="#000" stroke-width="1.35"/>
<circle cx="1118.51" cy="237.15" r="3.35" fill="none" stroke="#000" stroke-width="1.35"/>
<circle cx="1119.90" cy="238.82" r="3.35" fill="none" stroke="#000" stroke-width="1.35"/>
<circle cx="1121.29" cy="237.28" r="3.35" fill="none" stroke="#000" stroke-width="1.35"/>
<circle cx="1122.67" cy="238.57" r="3.35" fill="none" stroke="#000" stroke-width="1.35"/>
<circle cx="1124.06" cy="239.30" r="3.35" fill="none" stroke="#000" stroke-width="1.35"/>
<circle cx="1125.45" cy="238.04" r="3.35" fill="none" stroke="#000" stroke-width="1.35"/>
<circle cx="1126.84" cy="240.11" r="3.35" fill="none" stroke="#000" stroke-width="1.35"/>
<circle cx="1128.23" cy="239.83" r="3.35" fill="none" stroke="#000" stroke-width="1.35"/>
<circle cx="1129.62" cy="239.36" r="3.35" fill="none" stroke="#000" stroke-width="1.35"/>
<circle cx="1131.01" cy="241.50" r="3.35" fill="none" stroke="#000" stroke-width="1.35"/>
<circle cx="1132.39" cy="240.35" r="3.35" fill="none" stroke="#000" stroke-width="1.35"/>
<circle cx="1133.78" cy="240.98" r="3.35" fill="none" stroke="#000" stroke-width="1.35"/>
<circle cx="1135.17" cy="242.53" r="3.35" fill="none" stroke="#000" stroke-width="1.35"/>
<circle cx="1136.56" cy="241.07" r="3.35" fill="none" stroke="#000" stroke-width="1.35"/>
<circle cx="1137.95" cy="242.69" r="3.35" fill="none" stroke="#000" stroke-width="1.35"/>
<circle cx="1139.34" cy="243.22" r="3.35" fill="none" stroke="#000" stroke-width="1.35"/>
<circle cx="1140.73" cy="242.13" r="3.35" fill="none" stroke="#000" stroke-width="1.35"/>
<circle cx="1142.11" cy="244.29" r="3.35" fill="none" stroke="#000" stroke-width="1.35"/>
<circle cx="1143.50" cy="243.74" r="3.35" fill="none" stroke="#000" stroke-width="1.35"/>
<circle cx="1144.89" cy="243.46" r="3.35" fill="none" stroke="#000" stroke-width="1.35"/>
<circle cx="1146.28" cy="245.39" r="3.35" fill="none" stroke="#000" stroke-width="1.35"/>
<circle cx="1147.67" cy="243.99" r="3.35" fill="none" stroke="#000" stroke-width="1.35"/>
<circle cx="1149.06" cy="244.80" r="3.35" fill="none" stroke="#000" stroke-width="1.35"/>
<circle cx="1150.45" cy="245.99" r="3.35" fill="none" stroke="#000" stroke-width="1.35"/>
<circle cx="1151.83" cy="244.46" r="3.35" fill="none" stroke="#000" stroke-width="1.35"/>
<circle cx="1153.22" cy="246.18" r="3.35" fill="none" stroke="#000" stroke-width="1.35"/>
<circle cx="1154.61" cy="246.30" r="3.35" fill="none" stroke="#000" stroke-width="1.35"/>
<circle cx="1156.00" cy="246.68" r="3.35" fill="none" stroke="#000" stroke-width="1.35"/>
<circle cx="1157.00" cy="248.95" r="3.35" fill="none" stroke="#000" stroke-width="1.35"/>
<circle cx="1158.86" cy="252.19" r="3.35" fill="none" stroke="#000" stroke-width="1.35"/>
<circle cx="1160.71" cy="251.80" r="3.35" fill="none" stroke="#000" stroke-width="1.35"/>
<circle cx="1162.57" cy="254.46" r="3.35" fill="none" stroke="#000" stroke-width="1.35"/>
<circle cx="1164.43" cy="255.20" r="3.35" fill="none" stroke="#000" stroke-width="1.35"/>
<circle cx="1166.29" cy="255.20" r="3.35" fill="none" stroke="#000" stroke-width="1.35"/>
<circle cx="1168.14" cy="257.65" r="3.35" fill="none" stroke="#000" stroke-width="1.35"/>
<circle cx="1170.00" cy="256.89" r="3.35" fill="none" stroke="#000" stroke-width="1.35"/>
<circle cx="1171.86" cy="257.40" r="3.35" fill="none" stroke="#000" stroke-width="1.35"/>
<circle cx="1173.71" cy="259.38" r="3.35" fill="none" stroke="#000" stroke-width="1.35"/>
<circle cx="1175.57" cy="259.72" r="3.35" fill="none" stroke="#000" stroke-width="1.35"/>
<circle cx="1177.43" cy="262.89" r="3.35" fill="none" stroke="#000" stroke-width="1.35"/>
<circle cx="1179.29" cy="264.22" r="3.35" fill="none" stroke="#000" stroke-width="1.35"/>
<circle cx="1181.14" cy="262.76" r="3.35" fill="none" stroke="#000" stroke-width="1.35"/>
<circle cx="1183.00" cy="264.62" r="3.35" fill="none" stroke="#000" stroke-width="1.35"/>
<circle cx="1182.20" cy="263.85" r="3.35" fill="none" stroke="#000" stroke-width="1.35"/>
<circle cx="1186.00" cy="272.20" r="3.35" fill="none" stroke="#000" stroke-width="1.35"/>
<circle cx="1187.75" cy="272.20" r="3.35" fill="none" stroke="#000" stroke-width="1.35"/>
<circle cx="1189.50" cy="272.20" r="3.35" fill="none" stroke="#000" stroke-width="1.35"/>
<circle cx="1191.25" cy="272.20" r="3.35" fill="none" stroke="#000" stroke-width="1.35"/>
<circle cx="1193.00" cy="272.20" r="3.35" fill="none" stroke="#000" stroke-width="1.35"/>
<circle cx="1194.75" cy="272.20" r="3.35" fill="none" stroke="#000" stroke-width="1.35"/>
<circle cx="1196.50" cy="272.20" r="3.35" fill="none" stroke="#000" stroke-width="1.35"/>
<circle cx="1198.25" cy="272.20" r="3.35" fill="none" stroke="#000" stroke-width="1.35"/>
<circle cx="1200.00" cy="272.20" r="3.35" fill="none" stroke="#000" stroke-width="1.35"/>
<circle cx="1205.10" cy="272.20" r="3.35" fill="none" stroke="#000" stroke-width="1.35"/>
<circle cx="1223.70" cy="331.80" r="3.35" fill="none" stroke="#000" stroke-width="1.35"/>
<circle cx="1226.50" cy="331.80" r="3.35" fill="none" stroke="#000" stroke-width="1.35"/>
<circle cx="1229.50" cy="331.80" r="3.35" fill="none" stroke="#000" stroke-width="1.35"/>
<circle cx="1232.50" cy="331.80" r="3.35" fill="none" stroke="#000" stroke-width="1.35"/>
<path d="M750.00,79.00H753.00V83.00H756.20V87.50H760.00V89.00H763.65V90.95H767.30V92.90H771.20V94.40H774.60V95.10H778.00V95.80H781.00V97.00H785.08V97.10H789.16V97.20H793.24V97.30H797.32V97.40H801.40V97.50H804.80V98.35H808.20V99.20H812.10V101.10H815.67V102.23H819.23V103.37H822.80V104.50H825.70V107.40H830.08V107.78H834.45V108.15H838.83V108.53H843.20V108.90H846.00V110.80H855.90H859.30V111.80H862.70V112.80H867.35V113.75H872.00V114.70H875.40V119.30H878.80V122.70H885.60H889.00V127.20H893.00V129.50H897.00V131.80H901.80V132.90H906.60V134.00H916.20H919.60V134.60H923.00V135.20H926.80V135.93H930.60V136.67H934.40V137.40H938.17V139.67H941.93V141.93H945.70V144.20H949.70V146.50H953.70V148.80H959.30V150.50H962.70V151.50H966.10V152.50H969.87V153.63H973.63V154.77H977.40V155.90H981.40V157.00H985.40V158.10H991.00V160.40H995.25V161.55H999.50V162.70H1003.75V163.85H1008.00V165.00H1011.50V168.90H1014.90V172.90H1018.85V174.30H1022.80V175.70H1026.75V177.15H1030.70V178.60H1034.50V179.33H1038.30V180.07H1042.10V180.80H1045.73V181.53H1049.37V182.27H1053.00V183.00H1056.88V183.32H1060.77V183.63H1064.65V183.95H1068.53V184.27H1072.42V184.58H1076.30V184.90H1080.20V185.13H1084.10V185.37H1088.00V185.60H1091.85V186.20H1095.70V186.80H1099.60V187.65H1103.50V188.50H1107.40V189.35H1111.30V190.20H1114.73V191.47H1118.17V192.73H1121.60V194.00H1126.15V196.25H1130.70V198.50H1135.03V200.40H1139.37V202.30H1143.70V204.20H1147.87V206.10H1152.03V208.00H1156.20V209.90H1207.80V233.00H1230.00" fill="none" stroke="#000" stroke-width="1.2"/>
<path d="M746.10,83.10L750.00,74.70L753.90,83.10ZM747.60,85.10L751.50,76.70L755.40,85.10ZM752.30,91.60L756.20,83.20L760.10,91.60ZM844.10,114.90L848.00,106.50L851.90,114.90ZM849.10,114.90L853.00,106.50L856.90,114.90ZM874.90,126.80L878.80,118.40L882.70,126.80ZM902.70,138.10L906.60,129.70L910.50,138.10ZM912.30,138.10L916.20,129.70L920.10,138.10ZM955.40,154.60L959.30,146.20L963.20,154.60ZM1018.90,179.80L1022.80,171.40L1026.70,179.80ZM1084.10,189.70L1088.00,181.30L1091.90,189.70ZM1091.80,190.90L1095.70,182.50L1099.60,190.90ZM1094.00,192.27L1097.90,183.87L1101.80,192.27ZM1096.19,190.66L1100.09,182.26L1103.99,190.66ZM1098.39,193.03L1102.29,184.63L1106.19,193.03ZM1100.59,193.08L1104.49,184.68L1108.39,193.08ZM1102.78,192.24L1106.68,183.84L1110.58,192.24ZM1104.98,194.90L1108.88,186.50L1112.78,194.90ZM1107.17,193.79L1111.07,185.39L1114.97,193.79ZM1109.37,194.51L1113.27,186.11L1117.17,194.51ZM1111.57,196.99L1115.47,188.59L1119.37,196.99ZM1113.76,195.63L1117.66,187.23L1121.56,195.63ZM1115.96,197.66L1119.86,189.26L1123.76,197.66ZM1118.16,199.07L1122.06,190.67L1125.96,199.07ZM1120.35,198.21L1124.25,189.81L1128.15,198.21ZM1122.55,201.34L1126.45,192.94L1130.35,201.34ZM1124.74,201.65L1128.64,193.25L1132.54,201.65ZM1126.94,201.72L1130.84,193.32L1134.74,201.72ZM1129.14,204.81L1133.04,196.41L1136.94,204.81ZM1131.33,203.95L1135.23,195.55L1139.13,203.95ZM1133.53,205.22L1137.43,196.82L1141.33,205.22ZM1135.73,207.60L1139.63,199.20L1143.53,207.60ZM1137.92,206.37L1141.82,197.97L1145.72,206.37ZM1140.12,208.84L1144.02,200.44L1147.92,208.84ZM1142.31,210.03L1146.21,201.63L1150.11,210.03ZM1144.51,209.28L1148.41,200.88L1152.31,209.28ZM1146.71,212.43L1150.61,204.03L1154.51,212.43ZM1148.90,212.32L1152.80,203.92L1156.70,212.32ZM1151.10,212.65L1155.00,204.25L1158.90,212.65ZM1153.10,214.00L1157.00,205.60L1160.90,214.00ZM1155.48,214.45L1159.38,206.05L1163.28,214.45ZM1157.86,213.40L1161.76,205.00L1165.66,213.40ZM1160.24,214.35L1164.14,205.95L1168.04,214.35ZM1162.62,214.13L1166.52,205.73L1170.42,214.13ZM1165.00,213.47L1168.90,205.07L1172.80,213.47ZM1167.39,214.57L1171.29,206.17L1175.19,214.57ZM1169.77,213.77L1173.67,205.37L1177.57,213.77ZM1172.15,213.74L1176.05,205.34L1179.95,213.74ZM1174.53,214.58L1178.43,206.18L1182.33,214.58ZM1176.91,213.49L1180.81,205.09L1184.71,213.49ZM1179.29,214.10L1183.19,205.70L1187.09,214.10ZM1181.67,214.37L1185.57,205.97L1189.47,214.37ZM1184.05,213.40L1187.95,205.00L1191.85,213.40ZM1186.43,214.42L1190.33,206.02L1194.23,214.42ZM1188.81,214.03L1192.71,205.63L1196.61,214.03ZM1191.20,213.53L1195.10,205.13L1199.00,213.53ZM1193.58,214.59L1197.48,206.19L1201.38,214.59ZM1195.96,213.68L1199.86,205.28L1203.76,213.68ZM1198.34,213.83L1202.24,205.43L1206.14,213.83ZM1200.72,214.54L1204.62,206.14L1208.52,214.54ZM1203.10,213.45L1207.00,205.05L1210.90,213.45ZM1208.00,237.10L1211.90,228.70L1215.80,237.10ZM1210.70,237.10L1214.60,228.70L1218.50,237.10ZM1213.10,237.10L1217.00,228.70L1220.90,237.10ZM1217.90,237.10L1221.80,228.70L1225.70,237.10ZM1225.70,237.10L1229.60,228.70L1233.50,237.10Z" fill="#000"/>
</svg></body></html>
